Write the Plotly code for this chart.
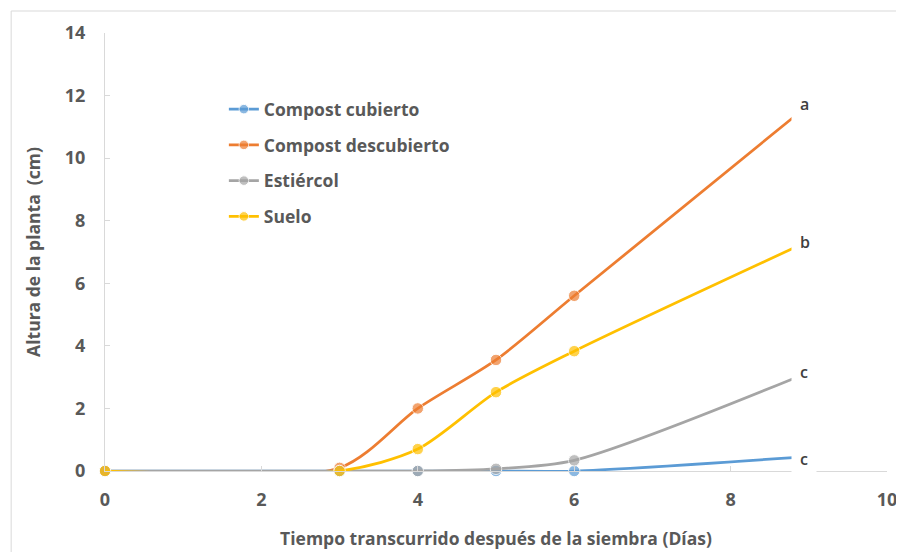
import plotly.graph_objects as go

days = [0, 3, 4, 5, 6, 8.8]
compost_cubierto = [0, 0, 0, 0, 0, 0.43]
compost_descubierto = [0, 0.1, 2.0, 3.55, 5.6, 11.3]
estiercol = [0, 0, 0, 0.07, 0.34, 2.95]
suelo = [0, 0, 0.7, 2.52, 3.83, 7.12]

series_names = ["Compost cubierto", "Compost descubierto", "Estiércol", "Suelo"]
series_values = [compost_cubierto, compost_descubierto, estiercol, suelo]
colors = ["#5B9BD5", "#ED7D31", "#A5A5A5", "#FFC000"]
end_labels = ["c", "a", "c", "b"]
label_yshift = [-1, 13, 7, 6]

TXT = "#595959"
FONT = "Open Sans"

fig = go.Figure()
for i, (name, vals, col) in enumerate(zip(series_names, series_values, colors)):
    sizes = [11.5] * (len(days) - 1) + [0]
    fig.add_trace(go.Scatter(
        x=days, y=vals, name=name, mode="lines+markers",
        line=dict(color=col, width=2.75, shape="spline", smoothing=0.8),
        marker=dict(color=col, size=sizes),
        legendgroup=name, cliponaxis=False,
    ))

for i, vals in enumerate(series_values):
    fig.add_annotation(
        x=days[-1], y=vals[-1], text=end_labels[i], showarrow=False,
        xanchor="left", xshift=-2, yshift=label_yshift[i],
        bgcolor="white", borderpad=8,
        font=dict(family=FONT, size=16, color="#404040", weight=600),
    )

fig.add_shape(type="rect", xref="paper", yref="paper",
              x0=-0.12, x1=1.05, y0=-0.4, y1=1.0502,
              line=dict(color="#D9D9D9", width=1), layer="below")

tickfont = dict(family=FONT, size=18, color=TXT, weight="bold")
titlefont = dict(family=FONT, size=17.5, color=TXT, weight="bold")

fig.update_layout(
    width=896, height=544,
    margin=dict(l=96.5, r=17, t=25, b=81),
    paper_bgcolor="white", plot_bgcolor="white",
    font=dict(family=FONT, color=TXT),
    showlegend=True,
    legend=dict(x=0.152, y=0.867, xanchor="left", yanchor="top",
                bgcolor="rgba(0,0,0,0)", tracegroupgap=10,
                font=dict(family=FONT, size=17.5, color=TXT, weight="bold"),
                itemwidth=30),
    xaxis=dict(range=[0, 10], dtick=2, showgrid=False, zeroline=False,
               showline=True, linecolor="#D9D9D9", linewidth=1,
               ticks="inside", ticklen=5, tickcolor="#D9D9D9",
               tickfont=tickfont, ticklabelstandoff=12, automargin=False,
               title=dict(text="Tiempo transcurrido después de la siembra (Días)",
                          font=titlefont, standoff=23)),
    yaxis=dict(range=[0, 14], dtick=2, showgrid=False, zeroline=False,
               showline=True, linecolor="#D9D9D9", linewidth=1,
               ticks="inside", ticklen=5, tickcolor="#D9D9D9",
               tickfont=tickfont, ticklabelstandoff=15, automargin=False,
               title=dict(text="Altura de la planta\u00a0 (cm)",
                          font=titlefont, standoff=19)),
)

fig.write_html("out.html")
